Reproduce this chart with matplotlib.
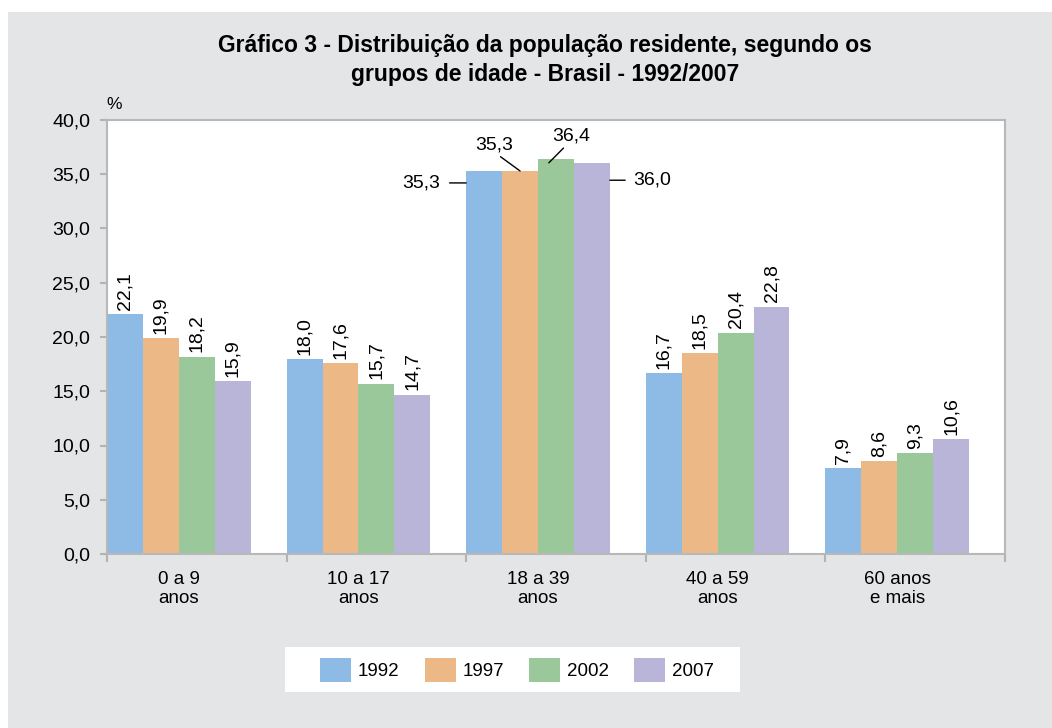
import numpy as np
import matplotlib.pyplot as plt
from matplotlib.patches import Rectangle
from matplotlib.ticker import FuncFormatter

plt.rcParams['font.family'] = ['Liberation Sans', 'DejaVu Sans']

# dados
grupos = ['0 a 9\nanos', '10 a 17\nanos', '18 a 39\nanos', '40 a 59\nanos', '60 anos\ne mais']
anos = ['1992', '1997', '2002', '2007']
v1992 = [22.1, 18.0, 35.3, 16.7, 7.9]
v1997 = [19.9, 17.6, 35.3, 18.5, 8.6]
v2002 = [18.2, 15.7, 36.4, 20.4, 9.3]
v2007 = [15.9, 14.7, 36.0, 22.8, 10.6]
series = [v1992, v1997, v2002, v2007]
cores = ['#8ebbe5', '#ecb986', '#9bc89b', '#b9b5d9']

def br(v):
    return f'{v:.1f}'.replace('.', ',')

fig = plt.figure(figsize=(10.52, 7.28), dpi=100, facecolor='white')
# fundo cinza
fig.patches.append(Rectangle((8/1052, 0), 1, 1 - 12/728, transform=fig.transFigure,
                             facecolor='#e4e5e7', edgecolor='none', zorder=-10))
# caixa da legenda
fig.patches.append(Rectangle((285/1052, 1 - 692/728), 455/1052, 45/728, transform=fig.transFigure,
                             facecolor='white', edgecolor='none', zorder=-5))

ax = fig.add_axes([107/1052, 1 - 554/728, 898/1052, 434/728])
ax.set_facecolor('white')

x = np.arange(len(grupos))
w = 0.2
barras = []
for j, s in enumerate(series):
    b = ax.bar(x + (j - 1.5) * w, s, width=w, color=cores[j], label=anos[j], zorder=2)
    barras.append(b)

ax.set_xlim(-0.4, 4.6)
ax.set_ylim(0, 40)
ax.set_yticks(np.arange(0, 40.1, 5))
ax.yaxis.set_major_formatter(FuncFormatter(lambda v, p: br(v)))
ax.set_xticks(x)
ax.set_xticklabels(grupos)
ax.set_xticks(np.arange(-0.4, 4.7, 1.0), minor=True)
ax.tick_params(axis='x', which='major', length=0, pad=12, labelsize=13.5)
ax.tick_params(axis='x', which='minor', length=6, width=1.5, color='#b3b3b3')
ax.tick_params(axis='y', length=5, width=1.5, color='#b3b3b3', pad=7, labelsize=14)
for sp in ax.spines.values():
    sp.set_color('#b8b8b8')
    sp.set_linewidth(1.5)

ax.text(0.008, 1.035, '%', transform=ax.transAxes, ha='center', va='center', fontsize=12.5)

# rótulos verticais
for j, s in enumerate(series):
    for i, v in enumerate(s):
        if i == 2:
            continue
        ax.annotate(br(v), xy=(x[i] + (j - 1.5) * w, v), xytext=(0, 3),
                    textcoords='offset points', rotation=90, ha='center', va='bottom', fontsize=14)

# rótulos do grupo 18 a 39 com linhas
lp = dict(arrowstyle='-', color='black', lw=1)
xc = [x[2] + (j - 1.5) * w for j in range(4)]
ax.annotate(br(v1992[2]), xy=(xc[0] - w / 2, v1992[2] - 1.1), xytext=(-19, 0),
            textcoords='offset points', ha='right', va='center', fontsize=14,
            arrowprops=dict(lp, relpos=(1, 0.5), shrinkA=5, shrinkB=0))
ax.annotate(br(v1997[2]), xy=(xc[1], v1997[2]), xytext=(-19, 19),
            textcoords='offset points', ha='center', va='center', fontsize=14,
            arrowprops=dict(lp, relpos=(0.55, 0), shrinkA=1, shrinkB=0))
ax.annotate(br(v2002[2]), xy=(xc[2] - 0.04, v2002[2] - 0.35), xytext=(16, 19.5),
            textcoords='offset points', ha='center', va='center', fontsize=14,
            arrowprops=dict(lp, relpos=(0.4, 0), shrinkA=1, shrinkB=0))
ax.annotate(br(v2007[2]), xy=(xc[3] + w / 2, v2007[2] - 1.55), xytext=(17, 0),
            textcoords='offset points', ha='left', va='center', fontsize=14,
            arrowprops=dict(lp, relpos=(0, 0.5), shrinkA=4, shrinkB=0))

fig.text(545/1052, 1 - 60/728,
         'Gráfico 3 - Distribuição da população residente, segundo os\ngrupos de idade - Brasil - 1992/2007',
         ha='center', va='center', fontsize=16.5, fontweight='bold', linespacing=1.3)

fig.legend(handles=barras, labels=anos, loc='center', bbox_to_anchor=(517/1052, 1 - 670/728),
           ncol=4, frameon=False, fontsize=13.5, handlelength=1.65, handleheight=1.65,
           handletextpad=0.35, columnspacing=1.35)

fig.savefig('out.png', dpi=100)
